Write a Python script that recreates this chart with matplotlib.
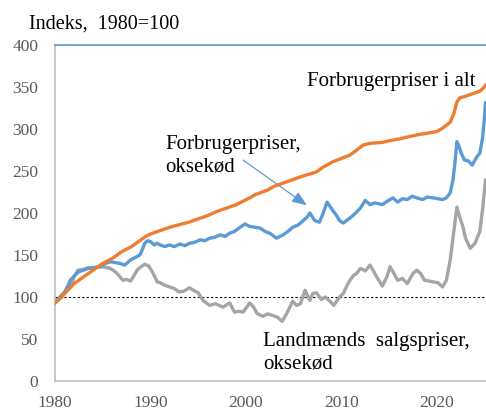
import matplotlib
matplotlib.use("Agg")
import matplotlib.pyplot as plt
import numpy as np

# ---- data ----
cpi_years = [1980.0, 1980.5, 1981.0, 1981.5, 1982.0, 1982.5, 1983.0, 1983.5, 1984.0, 1984.5,
             1985.0, 1985.5, 1986.0, 1986.5, 1987.0, 1987.5, 1988.0, 1988.5, 1989.0, 1989.5,
             1990.0, 1990.5, 1991.0, 1992.0, 1993.0, 1994.0, 1995.0, 1996.0, 1997.0, 1998.0,
             1999.0, 2000.4, 2001.0, 2002.2, 2003.0, 2004.0, 2005.7, 2007.4, 2008.0, 2009.1,
             2010.9, 2011.5, 2012.3, 2013.0, 2014.3, 2015.0, 2016.0, 2017.9, 2019.0, 2020.0,
             2020.6, 2021.4, 2021.8, 2022.1, 2022.4, 2023.0, 2023.5, 2024.0, 2024.5, 2024.9, 2025.1]
cpi_vals = [93, 98, 104, 110, 116, 120, 124, 128, 132, 136,
            140, 143, 146, 150, 154, 157, 160, 164, 168, 172,
            175, 177, 179, 183, 186, 189, 193, 197, 202, 206,
            210, 218, 222, 227, 232, 236, 243, 249, 254, 261,
            269, 274, 281, 283, 284, 286, 288, 293, 295, 297,
            301, 308, 319, 332, 337, 339, 341, 343, 345, 349, 352]

beef_years = [1980.0, 1980.5, 1981.0, 1981.3, 1981.6, 1982.1, 1982.5, 1983.0, 1983.5, 1984.0,
              1984.7, 1985.3, 1985.8, 1986.3, 1986.8, 1987.3, 1987.9, 1988.4, 1988.9, 1989.2,
              1989.4, 1989.7, 1990.0, 1990.4, 1990.7, 1991.0, 1991.5, 1992.0, 1992.5, 1993.1,
              1993.6, 1994.1, 1994.6, 1995.2, 1995.7, 1996.2, 1996.7, 1997.3, 1997.8, 1998.3,
              1998.8, 1999.4, 1999.9, 2000.4, 2001.0, 2001.5, 2002.0, 2002.5, 2003.2, 2003.9,
              2004.4, 2004.9, 2005.5, 2006.0, 2006.4, 2006.7, 2007.2, 2007.7, 2008.1, 2008.5,
              2009.1, 2009.5, 2009.8, 2010.2, 2010.9, 2011.5, 2012.0, 2012.5, 2013.0, 2013.5,
              2014.3, 2014.8, 2015.4, 2015.9, 2016.4, 2016.9, 2017.4, 2017.9, 2018.5, 2019.0,
              2019.6, 2020.1, 2020.6, 2021.0, 2021.4, 2021.7, 2021.9, 2022.1, 2022.3, 2022.6,
              2022.9, 2023.3, 2023.7, 2024.0, 2024.2, 2024.5, 2024.8, 2025.0, 2025.1]
beef_vals = [93, 100, 106, 112, 120, 126, 130, 132, 134, 135,
             136, 140, 142, 141, 140, 138, 144, 147, 150, 158,
             164, 167, 166, 162, 164, 162, 160, 162, 160, 163,
             161, 164, 165, 168, 167, 170, 171, 174, 172, 176,
             178, 183, 187, 184, 183, 182, 178, 176, 170, 174,
             178, 183, 186, 191, 195, 200, 191, 189, 200, 213,
             203, 197, 191, 188, 194, 200, 206, 215, 210, 212,
             210, 214, 218, 213, 217, 216, 220, 218, 216, 219,
             218, 217, 216, 218, 224, 240, 260, 285, 280, 270,
             263, 262, 257, 263, 267, 271, 290, 315, 331]

farm_years = [1980.0, 1980.5, 1981.0, 1981.6, 1982.0, 1982.4, 1983.0, 1983.5, 1984.0, 1984.5,
              1985.0, 1985.4, 1985.8, 1986.2, 1986.5, 1987.1, 1987.5, 1987.9, 1988.2, 1988.6,
              1989.0, 1989.4, 1989.8, 1990.2, 1990.7, 1991.0, 1991.5, 1992.0, 1992.5, 1993.0,
              1993.5, 1994.1, 1994.5, 1995.0, 1995.5, 1996.2, 1996.8, 1997.6, 1998.3, 1998.8,
              1999.2, 1999.7, 2000.4, 2000.8, 2001.2, 2001.8, 2002.3, 2002.8, 2003.3, 2003.8,
              2004.3, 2004.9, 2005.3, 2005.7, 2006.2, 2006.7, 2007.0, 2007.4, 2007.9, 2008.3,
              2008.8, 2009.2, 2009.8, 2010.2, 2010.6, 2010.9, 2011.3, 2011.6, 2012.0, 2012.5,
              2013.0, 2013.4, 2013.8, 2014.3, 2014.8, 2015.1, 2015.5, 2015.9, 2016.4, 2016.9,
              2017.5, 2017.9, 2018.3, 2018.7, 2019.2, 2019.6, 2020.1, 2020.6, 2021.0, 2021.4,
              2021.7, 2022.1, 2022.4, 2022.7, 2023.0, 2023.5, 2024.0, 2024.5, 2024.8, 2025.1]
farm_vals = [93, 98, 104, 112, 124, 132, 133, 135, 134, 136,
             136, 135, 134, 131, 128, 120, 121, 119, 124, 132,
             136, 139, 137, 130, 118, 117, 114, 112, 110, 106,
             107, 111, 108, 105, 96, 90, 92, 88, 93, 82,
             83, 82, 93, 88, 80, 77, 80, 78, 76, 71,
             81, 95, 90, 92, 108, 96, 104, 105, 97, 100,
             95, 90, 100, 104, 114, 120, 126, 128, 134, 131,
             138, 130, 122, 113, 125, 136, 128, 120, 122, 116,
             128, 132, 128, 120, 119, 118, 117, 112, 120, 144,
             171, 207, 195, 185, 170, 158, 164, 178, 205, 239]

x_ticks = [1980, 1990, 2000, 2010, 2020]
y_ticks = [0, 50, 100, 150, 200, 250, 300, 350, 400]

# ---- figure ----
plt.rcParams['font.family'] = ['Liberation Serif', 'DejaVu Serif']
fig = plt.figure(figsize=(4.86, 4.12), dpi=100)
ax = fig.add_axes([55/486, 31/412, 1 - 55/486, (381-45)/412])

ORANGE = '#ed7d31'
BLUE = '#5b9bd5'
GRAY = '#a5a5a5'

ax.axhline(100, color='black', lw=0.8, ls=(0, (2, 2)), zorder=1)
ax.plot(farm_years, farm_vals, color=GRAY, lw=2.4, zorder=2)
ax.plot(beef_years, beef_vals, color=BLUE, lw=2.4, zorder=3)
ax.plot(cpi_years, cpi_vals, color=ORANGE, lw=2.4, zorder=4)

ax.set_xlim(1980, 2025.15)
ax.set_ylim(0, 400)
ax.set_xticks(x_ticks)
ax.set_yticks(y_ticks)
ax.tick_params(length=0, labelsize=12.5, labelcolor='#595959', pad=12)
ax.tick_params(axis='x', pad=10)

for s in ['left', 'bottom']:
    ax.spines[s].set_color('#bfbfbf')
    ax.spines[s].set_linewidth(1.2)
ax.spines['top'].set_color(BLUE)
ax.spines['top'].set_linewidth(1.2)
ax.spines['right'].set_visible(False)

fs = 15
fig.text(29/486, 1 - 29/412, 'Indeks,  1980=100', fontsize=14.5, ha='left', va='baseline')
ax.text(2024.05, 351, 'Forbrugerpriser i alt', fontsize=fs, ha='right', va='baseline')
ax.text(1991.6, 276, 'Forbrugerpriser,', fontsize=fs, ha='left', va='baseline')
ax.text(1991.6, 249, 'oksekød', fontsize=fs, ha='left', va='baseline')
ax.text(2001.8, 41.5, 'Landmænds  salgspriser,', fontsize=fs, ha='left', va='baseline')
ax.text(2001.8, 14.3, 'oksekød', fontsize=fs, ha='left', va='baseline')

ax.annotate('', xy=(2006.4, 209), xytext=(1999.7, 263),
            arrowprops=dict(arrowstyle='-|>,head_length=0.9,head_width=0.35',
                            color=BLUE, lw=0.9, shrinkA=0, shrinkB=0))

fig.savefig('out.png', dpi=100)
